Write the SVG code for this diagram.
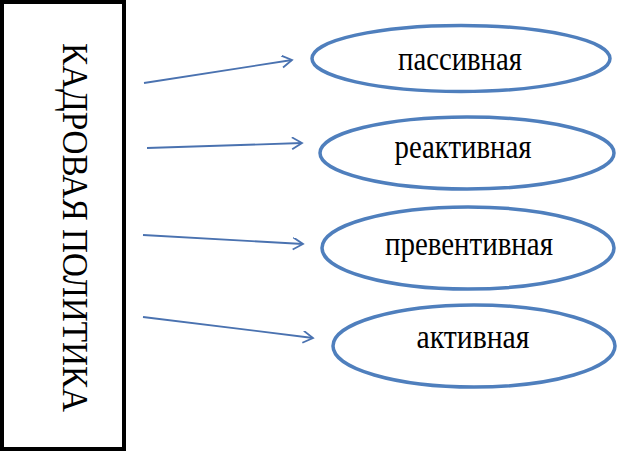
<svg xmlns="http://www.w3.org/2000/svg" width="617" height="453" viewBox="0 0 617 453">
<style>
.box{fill:#fff;stroke:#000;stroke-width:4}
.ell{fill:#fff;stroke:#4f7fbd;stroke-width:3.5}
.lbl{font-family:"Liberation Serif","Times New Roman",serif;font-size:33px;fill:#000;text-anchor:middle}
.ttl{font-family:"Liberation Serif","Times New Roman",serif;font-size:36px;fill:#000}
.arr{stroke:#4a72b0;stroke-width:1.8;fill:none;marker-end:url(#ah)}
</style>
<defs>
<marker id="ah" markerWidth="14" markerHeight="14" refX="11" refY="6" orient="auto" markerUnits="userSpaceOnUse">
<path d="M1,0 L11,6 L1,12" fill="none" stroke="#4a72b0" stroke-width="1.8"/>
</marker>
</defs>
<rect width="617" height="453" fill="#fff"/>
<g id="policy">
<rect class="box" x="2" y="2" width="122" height="447"/>
<text class="ttl" transform="translate(63,43) rotate(90)" textLength="369" lengthAdjust="spacingAndGlyphs">КАДРОВАЯ ПОЛИТИКА</text>
</g>
<g id="connectors">
<line class="arr" x1="144" y1="83" x2="292" y2="60"/>
<line class="arr" x1="147" y1="148" x2="302" y2="143"/>
<line class="arr" x1="143" y1="235" x2="303" y2="244"/>
<line class="arr" x1="143" y1="317" x2="313" y2="338"/>
</g>
<g id="passive">
<ellipse class="ell" cx="461" cy="58.5" rx="149" ry="33"/>
<text class="lbl" x="460" y="70" textLength="124" lengthAdjust="spacingAndGlyphs">пассивная</text>
</g>
<g id="reactive">
<ellipse class="ell" cx="467" cy="153" rx="147" ry="36"/>
<text class="lbl" x="463" y="158" textLength="137" lengthAdjust="spacingAndGlyphs">реактивная</text>
</g>
<g id="preventive">
<ellipse class="ell" cx="468" cy="248" rx="146" ry="41"/>
<text class="lbl" x="469" y="255" textLength="168" lengthAdjust="spacingAndGlyphs">превентивная</text>
</g>
<g id="active">
<ellipse class="ell" cx="474" cy="346" rx="141" ry="41"/>
<text class="lbl" x="473" y="348" textLength="113" lengthAdjust="spacingAndGlyphs">активная</text>
</g>
</svg>
